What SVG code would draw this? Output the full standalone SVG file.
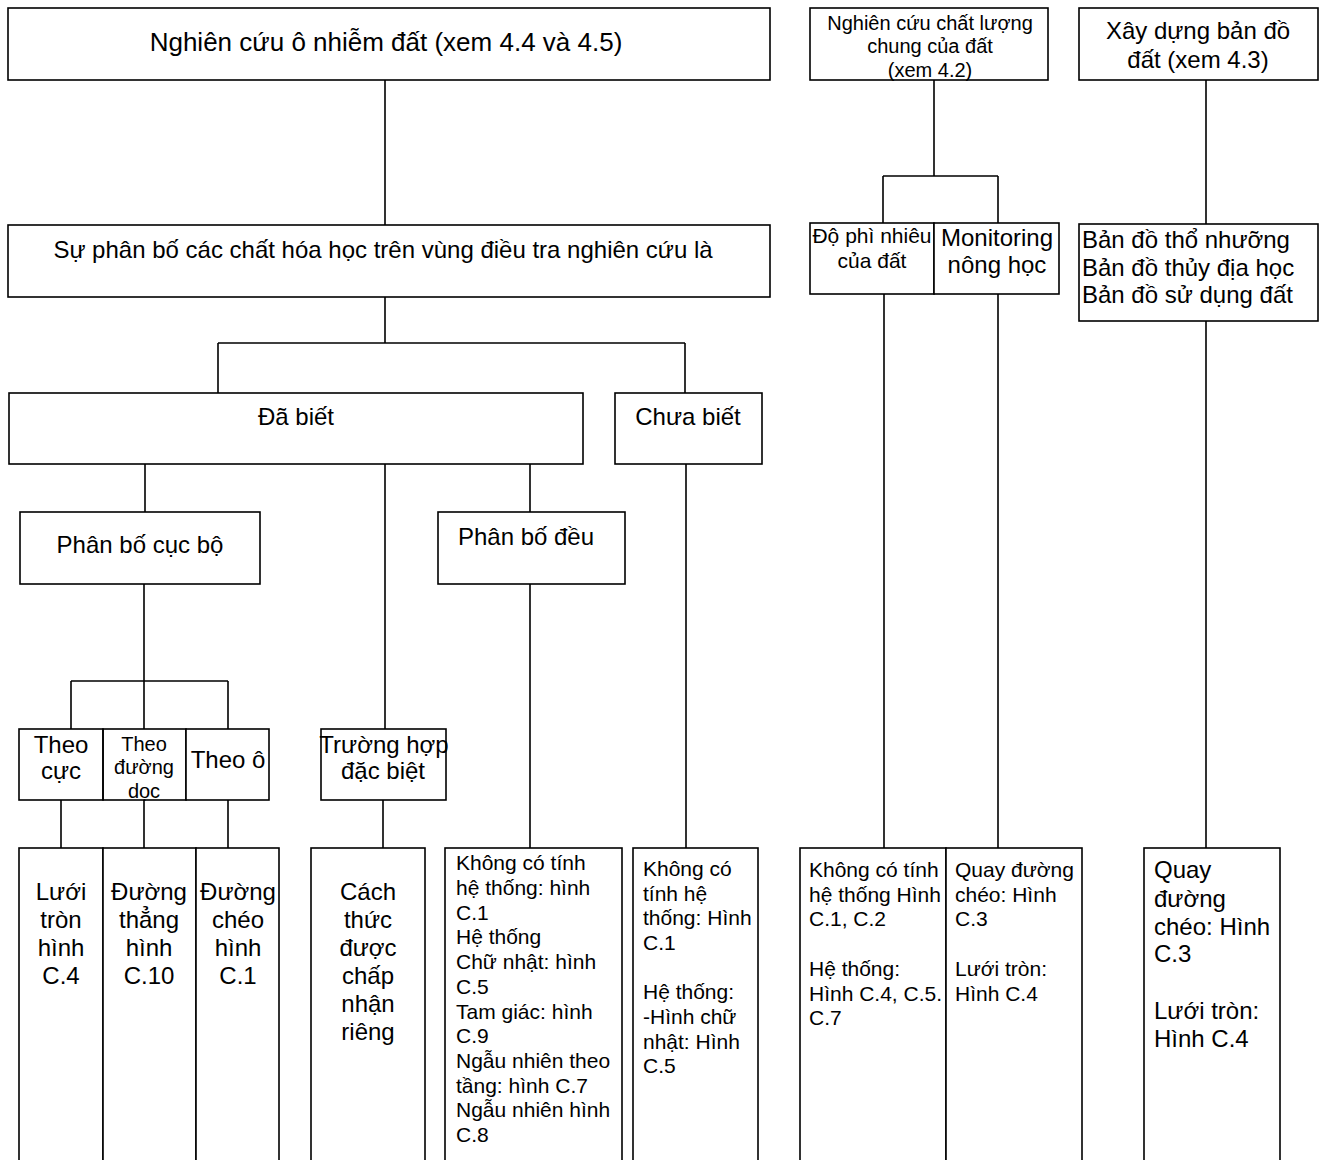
<svg xmlns="http://www.w3.org/2000/svg" width="1325" height="1160" viewBox="0 0 1325 1160">
<style>
.box{fill:#fff;stroke:#000;stroke-width:1.6}
.ln{stroke:#000;stroke-width:1.6;fill:none}
text{font-family:"Liberation Sans",Arial,sans-serif;fill:#000}
.c{text-anchor:middle}
.s26{font-size:26px}
.s24{font-size:24px}
.s21{font-size:21px}
.s20{font-size:20px}
</style>
<rect width="1325" height="1160" fill="#fff"/>
<g id="connectors">
<path class="ln" d="M385,80V225 M385,297V343 M218,343H685 M218,343V393 M685,343V393"/>
<path class="ln" d="M145,464V512 M385,464V729 M530,464V512 M686,464V848"/>
<path class="ln" d="M144,584V729 M71,681H228 M71,681V729 M228,681V729"/>
<path class="ln" d="M61,800V848 M144,800V848 M228,800V848 M383,800V848 M530,584V848"/>
<path class="ln" d="M934,80V176 M883,176H998 M883,176V223 M998,176V223 M1206,80V224"/>
<path class="ln" d="M884,294V848 M998,294V848 M1206,321V848"/>
</g>
<g id="n1"><rect class="box" x="8" y="8" width="762" height="72"/><text class="c s26" x="386" y="51">Nghiên cứu ô nhiễm đất (xem 4.4 và 4.5)</text></g>
<g id="n2"><rect class="box" x="8" y="225" width="762" height="72"/><text class="c s24" x="383" y="258">Sự phân bố các chất hóa học trên vùng điều tra nghiên cứu là</text></g>
<g id="n3"><rect class="box" x="9" y="393" width="574" height="71"/><text class="c s24" x="296" y="425">Đã biết</text></g>
<g id="n4"><rect class="box" x="615" y="393" width="147" height="71"/><text class="c s24" x="688" y="425">Chưa biết</text></g>
<g id="n5"><rect class="box" x="20" y="512" width="240" height="72"/><text class="c s24" x="140" y="553">Phân bố cục bộ</text></g>
<g id="n6"><rect class="box" x="438" y="512" width="187" height="72"/><text class="c s24" x="526" y="545">Phân bố đều</text></g>
<g id="n7"><rect class="box" x="19" y="729" width="84" height="71"/><text class="c s24" x="61" y="753">Theo</text><text class="c s24" x="61" y="779">cực</text></g>
<g id="n8"><text class="c s20" x="144" y="751">Theo</text><text class="c s20" x="144" y="774">đường</text><text class="c s20" x="144" y="798">dọc</text><rect class="box" x="103" y="729" width="83" height="71" fill="none" style="fill:none"/></g>
<g id="n9"><rect class="box" x="186" y="729" width="83" height="71"/><text class="c s24" x="228" y="768">Theo ô</text></g>
<g id="n10"><rect class="box" x="321" y="729" width="125" height="71"/><text class="c s24" x="384" y="753">Trường hợp</text><text class="c s24" x="383" y="779">đặc biệt</text></g>
<g id="n11"><rect class="box" x="19" y="848" width="84" height="330"/><text class="c s24"><tspan x="61" y="900">Lưới</tspan><tspan x="61" y="928">tròn</tspan><tspan x="61" y="956">hình</tspan><tspan x="61" y="984">C.4</tspan></text></g>
<g id="n12"><rect class="box" x="103" y="848" width="93" height="330"/><text class="c s24"><tspan x="149" y="900">Đường</tspan><tspan x="149" y="928">thẳng</tspan><tspan x="149" y="956">hình</tspan><tspan x="149" y="984">C.10</tspan></text></g>
<g id="n13"><rect class="box" x="196" y="848" width="83" height="330"/><text class="c s24"><tspan x="238" y="900">Đường</tspan><tspan x="238" y="928">chéo</tspan><tspan x="238" y="956">hình</tspan><tspan x="238" y="984">C.1</tspan></text></g>
<g id="n14"><rect class="box" x="311" y="848" width="114" height="330"/><text class="c s24"><tspan x="368" y="900">Cách</tspan><tspan x="368" y="928">thức</tspan><tspan x="368" y="956">được</tspan><tspan x="368" y="984">chấp</tspan><tspan x="368" y="1012">nhận</tspan><tspan x="368" y="1040">riêng</tspan></text></g>
<g id="n15"><rect class="box" x="445" y="848" width="177" height="330"/><text class="s21"><tspan x="456" y="870">Không có tính</tspan><tspan x="456" y="895">hệ thống: hình</tspan><tspan x="456" y="920">C.1</tspan><tspan x="456" y="944">Hệ thống</tspan><tspan x="456" y="969">Chữ nhật: hình</tspan><tspan x="456" y="994">C.5</tspan><tspan x="456" y="1019">Tam giác: hình</tspan><tspan x="456" y="1043">C.9</tspan><tspan x="456" y="1068">Ngẫu nhiên theo</tspan><tspan x="456" y="1093">tầng: hình C.7</tspan><tspan x="456" y="1117">Ngẫu nhiên hình</tspan><tspan x="456" y="1142">C.8</tspan></text></g>
<g id="n16"><rect class="box" x="633" y="848" width="125" height="330"/><text class="s21"><tspan x="643" y="876">Không có</tspan><tspan x="643" y="901">tính hệ</tspan><tspan x="643" y="925">thống: Hình</tspan><tspan x="643" y="950">C.1</tspan><tspan x="643" y="999">Hệ thống:</tspan><tspan x="643" y="1024">-Hình chữ</tspan><tspan x="643" y="1049">nhật: Hình</tspan><tspan x="643" y="1073">C.5</tspan></text></g>
<g id="n17"><text class="c s20"><tspan x="930" y="30">Nghiên cứu chất lượng</tspan><tspan x="930" y="53">chung của đất</tspan><tspan x="930" y="77">(xem 4.2)</tspan></text><rect class="box" x="810" y="8" width="238" height="72" style="fill:none"/></g>
<g id="n18"><rect class="box" x="1079" y="8" width="239" height="72"/><text class="c s24"><tspan x="1198" y="39">Xây dựng bản đồ</tspan><tspan x="1198" y="68">đất (xem 4.3)</tspan></text></g>
<g id="n19"><rect class="box" x="810" y="223" width="124" height="71"/><text class="c s21"><tspan x="872" y="243">Độ phì nhiêu</tspan><tspan x="872" y="268">của đất</tspan></text></g>
<g id="n20"><rect class="box" x="934" y="223" width="125" height="71"/><text class="c s24"><tspan x="997" y="246">Monitoring</tspan><tspan x="997" y="273">nông học</tspan></text></g>
<g id="n21"><rect class="box" x="1079" y="224" width="239" height="97"/><text class="s24"><tspan x="1082" y="248">Bản đồ thổ nhưỡng</tspan><tspan x="1082" y="276">Bản đồ thủy địa học</tspan><tspan x="1082" y="303">Bản đồ sử dụng đất</tspan></text></g>
<g id="n22"><rect class="box" x="800" y="848" width="146" height="330"/><text class="s21"><tspan x="809" y="877">Không có tính</tspan><tspan x="809" y="902">hệ thống Hình</tspan><tspan x="809" y="926">C.1, C.2</tspan><tspan x="809" y="976">Hệ thống:</tspan><tspan x="809" y="1001">Hình C.4, C.5.</tspan><tspan x="809" y="1025">C.7</tspan></text></g>
<g id="n23"><rect class="box" x="946" y="848" width="136" height="330"/><text class="s21"><tspan x="955" y="877">Quay đường</tspan><tspan x="955" y="902">chéo: Hình</tspan><tspan x="955" y="926">C.3</tspan><tspan x="955" y="976">Lưới tròn:</tspan><tspan x="955" y="1001">Hình C.4</tspan></text></g>
<g id="n24"><rect class="box" x="1144" y="848" width="136" height="330"/><text class="s24"><tspan x="1154" y="878">Quay</tspan><tspan x="1154" y="907">đường</tspan><tspan x="1154" y="935">chéo: Hình</tspan><tspan x="1154" y="962">C.3</tspan><tspan x="1154" y="1019">Lưới tròn:</tspan><tspan x="1154" y="1047">Hình C.4</tspan></text></g>
</svg>
